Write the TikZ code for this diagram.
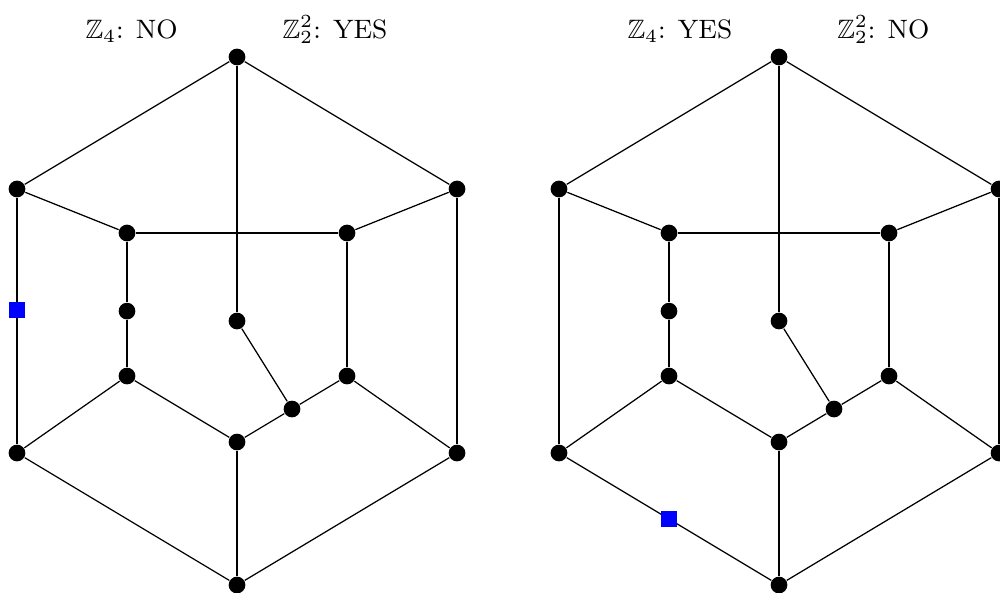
\documentclass[tikz,border=0pt]{standalone}
\usepackage{amssymb}
\usetikzlibrary{calc}
\tikzset{ vtx/.style={circle,fill=black,inner sep=0pt,minimum size=0.19cm},
  flagsq/.style={rectangle,fill=blue,inner sep=0pt,minimum size=0.19cm},
  lbl/.style={inner sep=0pt,font=\fontsize{8.6}{10.3}\selectfont} }

\begin{document}
\begin{tikzpicture}[x=1.25cm,y=1.25cm]
   \useasboundingbox (-2.1545,-2.4636) rectangle (6.936,2.918);
   \foreach \g/\dx in {a/0,b/4.927} {
    \begin{scope}[shift={(\dx,0)}]
     \node[vtx] (\g-t) at (0,2.4) {};
     \node[vtx] (\g-ul) at (-2,1.2) {};
     \node[vtx] (\g-ur) at (2,1.2) {};
     \node[vtx] (\g-ll) at (-2,-1.2) {};
     \node[vtx] (\g-lr) at (2,-1.2) {};
     \node[vtx] (\g-bot) at (0,-2.4) {};
     \node[vtx] (\g-iul) at (-1,0.8) {};
     \node[vtx] (\g-iur) at (1,0.8) {};
     \node[vtx] (\g-im) at (-1,0.09) {};
     \node[vtx] (\g-c) at (0,0) {};
     \node[vtx] (\g-ill) at (-1,-0.5) {};
     \node[vtx] (\g-ilr) at (1,-0.5) {};
     \node[vtx] (\g-ib) at (0,-1.1) {};
     \node[vtx] (\g-ik) at (0.5,-0.8) {};
     \foreach \u/\v in {t/ul,t/ur,t/c,ul/iul,ur/iur,iul/iur,iul/im,im/ill,
       iur/ilr,ill/ib,ib/ik,ik/ilr,c/ik,ul/ll,ur/lr,ll/ill,lr/ilr,ll/bot,
       lr/bot,ib/bot}
       \draw (\g-\u) -- (\g-\v);
    \end{scope}
   }
   % labels
   \node[lbl,anchor=base west] (la4) at (-1.382,2.564) {$\mathbb{Z}_4$: NO};
   \node[lbl,anchor=base east] (la22) at (1.373,2.564) {$\mathbb{Z}_2^2$: YES};
   \node[lbl,anchor=base west] (lb4) at (3.545,2.564) {$\mathbb{Z}_4$: YES};
   \node[lbl,anchor=base east] (lb22) at (6.3,2.564) {$\mathbb{Z}_2^2$: NO};
   % marked edges
   \node[flagsq] (asq) at (-2,0.1) {};
   \node[flagsq] (bsq) at ($(b-ll)!0.5!(b-bot)$) {};
\end{tikzpicture}
\end{document}
